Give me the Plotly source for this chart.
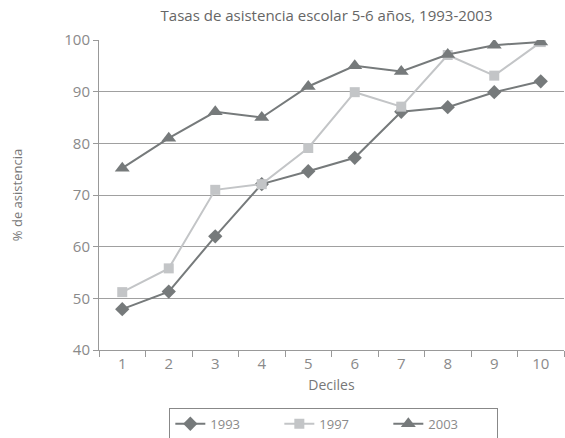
import plotly.graph_objects as go

deciles = ["1", "2", "3", "4", "5", "6", "7", "8", "9", "10"]
y1993 = [47.9, 51.3, 62.0, 72.1, 74.6, 77.2, 86.1, 87.0, 89.9, 92.0]
y1997 = [51.2, 55.8, 71.0, 72.1, 79.1, 89.9, 87.1, 97.1, 93.1, 99.6]
y2003 = [75.2, 81.0, 86.1, 85.0, 91.0, 95.0, 93.9, 97.2, 99.0, 99.6]

DARK = "#767a7b"
LIGHT = "#c3c5c7"
TXT = "#8a8a8a"
FONT = "Open Sans, Lato, sans-serif"

series = [
    ("1993", y1993, DARK, "diamond", 11),
    ("1997", y1997, LIGHT, "square", 10),
    ("2003", y2003, DARK, "triangle-up", 13),
]

fig = go.Figure()
for name, ys, col, sym, sz in series:
    fig.add_trace(go.Scatter(
        x=deciles, y=ys, name=name, mode="lines+markers",
        line=dict(color=col, width=2),
        marker=dict(symbol=sym, size=sz, color=col),
    ))

fig.update_layout(
    width=565, height=438,
    paper_bgcolor="white", plot_bgcolor="white",
    font=dict(family=FONT, color=TXT, size=14),
    margin=dict(l=99, r=1, t=40, b=88, autoexpand=False),
    title=dict(text="Tasas de asistencia escolar 5-6 años, 1993-2003",
               x=0.578, xanchor="center", y=0.963, yanchor="middle",
               font=dict(size=15, color="#666")),
    xaxis=dict(
        type="category", range=[-0.5, 9.5], tickson="boundaries",
        ticks="outside", ticklen=6,
        tickcolor="#999", showline=True, linecolor="#999", linewidth=1,
        showgrid=False, tickfont=dict(size=15, color=TXT), automargin=False,
        title=dict(text="Deciles", font=dict(size=14, color="#777"), standoff=8),
    ),
    yaxis=dict(
        range=[40, 100], dtick=10, ticks="outside", ticklen=5, tickcolor="#999",
        showline=True, linecolor="#999", linewidth=1, automargin=False,
        showgrid=True, gridcolor="#a0a0a0", gridwidth=1, zeroline=False,
        tickfont=dict(size=15, color=TXT),
        title=dict(text="% de asistencia", font=dict(size=13, color="#777"), standoff=38),
    ),
    legend=dict(
        orientation="h", x=0.505, xanchor="center",
        yref="container", y=0.069, yanchor="top",
        bordercolor="#888", borderwidth=1, font=dict(size=13, color=TXT),
        entrywidth=64, itemwidth=30,
    ),
)

fig.write_html(
    "out.html",
    config={"responsive": False, "displayModeBar": False},
    post_script="document.body.style.margin='0px';",
)
